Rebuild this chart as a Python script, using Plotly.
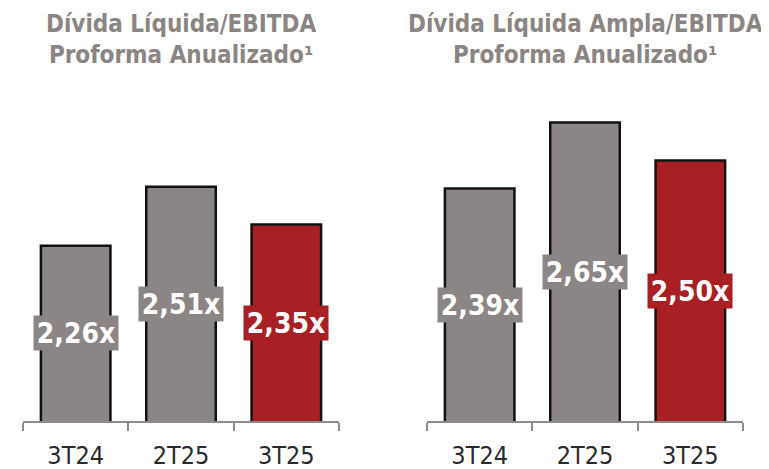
import plotly.graph_objects as go

categories = ["3T24", "2T25", "3T25"]
left_values = [2.26, 2.51, 2.35]
right_values = [2.39, 2.65, 2.50]
left_labels = ["2,26x", "2,51x", "2,35x"]
right_labels = ["2,39x", "2,65x", "2,50x"]
left_title = "Dívida Líquida/EBITDA<br>Proforma Anualizado¹"
right_title = "Dívida Líquida Ampla/EBITDA<br>Proforma Anualizado¹"

GRAY = "#8b8685"
RED = "#a81f24"
bar_colors = [GRAY, GRAY, RED]
TITLE_COLOR = "#8a8583"
AXIS_COLOR = "#8c8c8c"

left_range = [1.517, 2.835]
right_range = [1.475, 2.699]

# the page body has an 8px margin, so the figure is sized/placed to compensate
W, H = 761, 461
OFF = 8

def xd(px):
    return (px - OFF) / W

def yd(px):
    return 1 - (px - OFF) / H

fig = go.Figure()
fig.add_trace(go.Bar(x=categories, y=left_values, marker=dict(color=bar_colors, line=dict(color="#111111", width=2.5)),
                     xaxis="x", yaxis="y", hoverinfo="skip"))
fig.add_trace(go.Bar(x=categories, y=right_values, marker=dict(color=bar_colors, line=dict(color="#111111", width=2.5)),
                     xaxis="x2", yaxis="y2", hoverinfo="skip"))

xaxis_common = dict(type="category", range=[-0.5, 2.5], showline=True, linecolor=AXIS_COLOR, linewidth=1.5,
                    ticks="outside", tickson="boundaries", ticklen=8, tickwidth=1.5, tickcolor=AXIS_COLOR,
                    tickfont=dict(family="DejaVu Sans Condensed", size=25, color="#2a2a2a"),
                    showgrid=False, zeroline=False, fixedrange=True, ticklabelstandoff=11, automargin=False)

ydom = [yd(421), yd(110)]
fig.update_layout(
    width=W, height=H, margin=dict(l=0, r=0, t=0, b=0, autoexpand=False),
    paper_bgcolor="white", plot_bgcolor="white", showlegend=False, bargap=0.34,
    xaxis=dict(domain=[xd(23), xd(339)], anchor="y", **xaxis_common),
    xaxis2=dict(domain=[xd(427), xd(743)], anchor="y2", **xaxis_common),
    yaxis=dict(domain=ydom, range=left_range, visible=False, anchor="x", automargin=False),
    yaxis2=dict(domain=ydom, range=right_range, visible=False, anchor="x2", automargin=False),
)

annotations = []
for vals, labels, xa, ya, rng in [(left_values, left_labels, "x", "y", left_range),
                                  (right_values, right_labels, "x2", "y2", right_range)]:
    for cat, v, lab, col in zip(categories, vals, labels, bar_colors):
        annotations.append(dict(x=cat, y=(v + rng[0]) / 2, xref=xa, yref=ya, text=lab, showarrow=False,
                                font=dict(family="DejaVu Sans Condensed", size=28, color="white", weight="bold"),
                                bgcolor=col, width=80, height=30, borderpad=2))

annotations.append(dict(x=(xd(23) + xd(339)) / 2, y=yd(40), xref="paper", yref="paper", text=left_title,
                        showarrow=False, font=dict(family="DejaVu Sans Condensed", size=24, color=TITLE_COLOR, weight="bold"),
                        xanchor="center", yanchor="middle"))
annotations.append(dict(x=(xd(427) + xd(743)) / 2, y=yd(40), xref="paper", yref="paper", text=right_title,
                        showarrow=False, font=dict(family="DejaVu Sans Condensed", size=24, color=TITLE_COLOR, weight="bold"),
                        xanchor="center", yanchor="middle"))
fig.update_layout(annotations=annotations)

fig.write_html("out.html")
